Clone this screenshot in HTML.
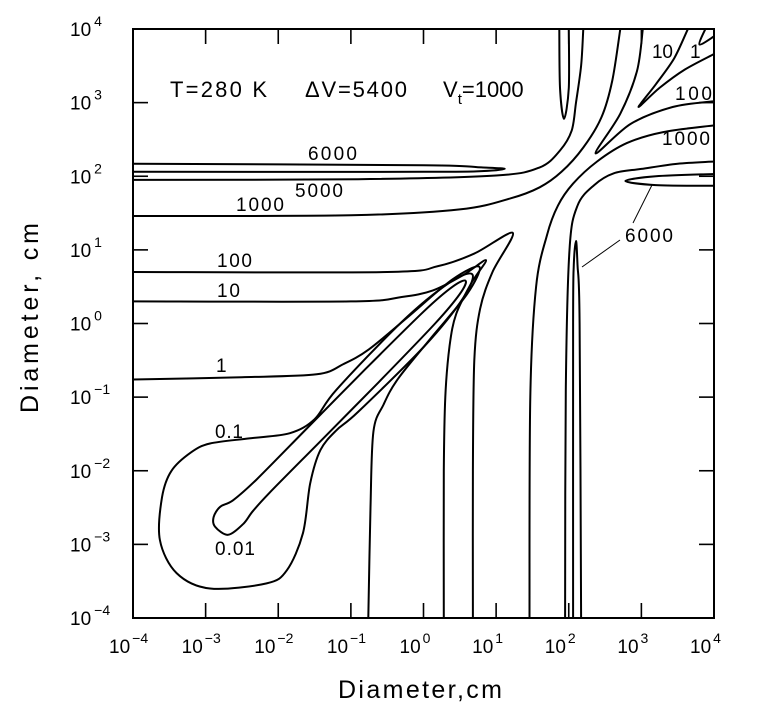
<!DOCTYPE html>
<html><head><meta charset="utf-8"><style>
html,body{margin:0;padding:0;background:#fff;}
svg{display:block;font-family:"Liberation Sans",sans-serif;}
</style></head><body>
<svg id="chart" width="759" height="718" viewBox="0 0 759 718">
<rect x="0" y="0" width="759" height="718" fill="#fff"/>
<g id="contours" fill="none" stroke="#000" stroke-width="2" stroke-linejoin="round"></g>
<g id="ticks" stroke="#000" stroke-width="1.6"></g>
<rect id="frame" fill="none" stroke="#000" stroke-width="2"/>
<g id="ticklabels" font-size="19" fill="#000"></g>
<g font-size="22" fill="#000">
<text x="170" y="97" textLength="97">T=280 K</text>
<text x="305" y="97" textLength="102">ΔV=5400</text>
<text x="443" y="97">V<tspan font-size="15" dy="7">t</tspan><tspan dy="-7">=1000</tspan></text>
</g>
<g font-size="19" fill="#000">
<text x="308" y="160" textLength="49">6000</text>
<text x="295" y="197" textLength="48">5000</text>
<text x="236" y="211" textLength="48">1000</text>
<text x="217" y="267" textLength="35">100</text>
<text x="217" y="297" textLength="23">10</text>
<text x="216" y="372">1</text>
<text x="215" y="438" textLength="28">0.1</text>
<text x="215" y="555" textLength="40">0.01</text>
<text x="652" y="58" textLength="21">10</text>
<text x="690" y="58">1</text>
<text x="675" y="100" textLength="37">100</text>
<text x="662" y="145" textLength="48">1000</text>
<text x="625" y="242" textLength="48">6000</text>
</g>
<g stroke="#000" stroke-width="1">
<line x1="633" y1="223" x2="652" y2="185"/>
<line x1="620" y1="240" x2="582" y2="267"/>
</g>
<text x="338" y="698" font-size="25" textLength="164">Diameter,cm</text>
<text transform="translate(38,318) rotate(-90)" text-anchor="middle" font-size="25" textLength="190">Diameter, cm</text>
</svg>
<script>
// contour paths in log10 units: [log10(x), log10(y)]
const c001 = [[-2.35,-2.55],[-2.48,-2.72],[-2.69,-2.87],[-2.87,-2.76],[-2.89,-2.63],[-2.80,-2.49],[-2.62,-2.40],[-2.3,-2.12],[-1.6,-1.42],[-0.8,-0.62],[0,0.16],[0.4,0.5],[0.58,0.58],[0.5,0.4],[0.16,0],[-0.62,-0.8],[-1.42,-1.6],[-2.12,-2.3]];
const c01 = [[-3.6,-2.36],[-3.47,-2.0],[-3.2,-1.75],[-2.94,-1.63],[-2.4,-1.56],[-1.84,-1.49],[-1.5,-1.3],[-1.2,-0.9],[-0.3,0.02],[0.35,0.55],[0.67,0.67],[0.55,0.35],[0.02,-0.3],[-0.9,-1.2],[-1.2,-1.45],[-1.42,-1.72],[-1.56,-2.17],[-1.66,-2.85],[-1.88,-3.35],[-2.16,-3.53],[-2.94,-3.6],[-3.4,-3.39],[-3.63,-2.94]];
const c1 = [[-4,-0.76],[-2.5,-0.73],[-1.47,-0.69],[-1.1,-0.55],[-0.75,-0.35],[-0.2,0.1],[0.4,0.6],[0.77,0.77],[0.6,0.4],[0.1,-0.2],[-0.35,-0.75],[-0.55,-1.1],[-0.69,-1.47],[-0.73,-2.5],[-0.76,-4]];
const c10 = [[-4,0.3],[-1.0,0.3],[-0.3,0.36],[0.13,0.45],[0.55,0.66],[0.86,0.86],[0.66,0.55],[0.45,0.13],[0.36,-0.3],[0.3,-1.0],[0.28,-2],[0.28,-4]];
const c100 = [[-4,0.7],[-0.5,0.7],[0.2,0.78],[0.7,0.95],[1.23,1.23],[0.95,0.7],[0.78,0.2],[0.7,-0.5],[0.68,-2],[0.68,-4]];
const c1000a = [[-4,1.46],[-1,1.47],[0.5,1.55],[1.2,1.7],[1.6,1.85],[1.9,2.06],[2.2,2.39],[2.45,2.8],[2.6,3.3],[2.71,4]];
const c1000b = [[1.46,-4],[1.47,-1],[1.55,0.5],[1.7,1.2],[1.85,1.6],[2.06,1.9],[2.39,2.2],[2.8,2.45],[3.3,2.6],[4,2.69]];
const c5000a = [[-4,1.95],[-0.9,1.96],[1.0,2.01],[1.6,2.12],[1.88,2.35],[2.04,2.62],[2.1,3.0],[2.17,3.5],[2.2,4]];
const c5000b = [[1.95,-4],[1.96,-0.9],[2.01,1.0],[2.12,1.6],[2.35,1.88],[2.62,2.04],[3.0,2.1],[3.5,2.17],[4,2.2]];
const c6000L = [[-4,2.17],[0,2.15],[0.8,2.12],[1.12,2.1],[0.8,2.07],[0,2.06],[-4,2.06]];
const c6000B = [[2.17,-4],[2.15,0],[2.12,0.8],[2.1,1.12],[2.07,0.8],[2.06,0],[2.06,-4]];
const c6000T = [[1.87,4],[1.88,3.2],[1.935,2.78],[2.0,3.2],[2.0,4]];
const c6000R = [[4,1.87],[3.2,1.88],[2.78,1.935],[3.2,2.0],[4,2.03]];
const c100UR = [[3.02,4],[2.94,3.43],[2.71,2.85],[2.37,2.31],[2.85,2.71],[3.43,2.94],[4,3.02]];
const c10UR = [[3.64,4],[3.45,3.6],[3.2,3.25],[2.96,2.94],[3.25,3.2],[3.6,3.45],[4,3.66]];
const c1UR = [[3.88,4],[3.80,3.79],[4,3.9]];
const closedContours = ['c001','c01'];
const xTicks = [-4,-3,-2,-1,0,1,2,3,4];
const yTicks = [-4,-3,-2,-1,0,1,2,3,4];
const xTickLabels = ['\u22124','\u22123','\u22122','\u22121','0','1','2','3','4'];
const yTickLabels = ['\u22124','\u22123','\u22122','\u22121','0','1','2','3','4'];

const X0=133, X1=714, Y0=618, Y1=29;
function sx(l){return X0+(l+4)*(X1-X0)/8;}
function sy(l){return Y0-(l+4)*(Y0-Y1)/8;}
const NS='http://www.w3.org/2000/svg';

function pathFrom(pts, closed){
  const p = pts.map(d=>[sx(d[0]),sy(d[1])]);
  const n = p.length;
  const get = i => closed ? p[(i+n)%n] : p[Math.max(0,Math.min(n-1,i))];
  let s = 'M'+p[0][0].toFixed(1)+','+p[0][1].toFixed(1);
  const segs = closed ? n : n-1;
  for(let i=0;i<segs;i++){
    const p0=get(i-1),p1=get(i),p2=get(i+1),p3=get(i+2);
    const t=0.16;
    const c1x=p1[0]+(p2[0]-p0[0])*t, c1y=p1[1]+(p2[1]-p0[1])*t;
    const c2x=p2[0]-(p3[0]-p1[0])*t, c2y=p2[1]-(p3[1]-p1[1])*t;
    s+=' C'+c1x.toFixed(1)+','+c1y.toFixed(1)+' '+c2x.toFixed(1)+','+c2y.toFixed(1)+' '+p2[0].toFixed(1)+','+p2[1].toFixed(1);
  }
  if(closed) s+=' Z';
  return s;
}

const defs = {c001,c01,c1,c10,c100,c1000a,c1000b,c5000a,c5000b,c6000L,c6000B,c6000T,c6000R,c100UR,c10UR,c1UR};
const cg = document.getElementById('contours');
const clip = document.createElementNS(NS,'clipPath');
clip.setAttribute('id','plotclip');
const cr = document.createElementNS(NS,'rect');
cr.setAttribute('x',X0);cr.setAttribute('y',Y1);cr.setAttribute('width',X1-X0);cr.setAttribute('height',Y0-Y1);
clip.appendChild(cr);
document.getElementById('chart').appendChild(clip);
cg.setAttribute('clip-path','url(#plotclip)');
for(const k in defs){
  const el=document.createElementNS(NS,'path');
  el.setAttribute('d',pathFrom(defs[k], closedContours.includes(k)));
  
  
  cg.appendChild(el);
}

const fr=document.getElementById('frame');
fr.setAttribute('x',X0);fr.setAttribute('y',Y1);fr.setAttribute('width',X1-X0);fr.setAttribute('height',Y0-Y1);

const tg=document.getElementById('ticks');
const L=15;
function addLine(x1,y1,x2,y2,name){
  const l=document.createElementNS(NS,'line');
  l.setAttribute('x1',x1);l.setAttribute('y1',y1);l.setAttribute('x2',x2);l.setAttribute('y2',y2);
  
  
  tg.appendChild(l);
}
xTicks.forEach((v,i)=>{
  if(i===0||i===xTicks.length-1) return;
  const x=sx(v);
  addLine(x,Y0,x,Y0-L,'x-tick-bottom');
  addLine(x,Y1,x,Y1+L,'x-tick-top');
});
yTicks.forEach((v,i)=>{
  if(i===0||i===yTicks.length-1) return;
  const y=sy(v);
  addLine(X0,y,X0+L,y,'y-tick-left');
  addLine(X1,y,X1-L,y,'y-tick-right');
});

const lg=document.getElementById('ticklabels');
xTicks.forEach((v,i)=>{
  const t=document.createElementNS(NS,'text');
  const x=sx(v);
  t.setAttribute('x',x-24);
  t.setAttribute('y',653);
  
  
  t.textContent='10';
  const s=document.createElementNS(NS,'tspan');
  s.setAttribute('font-size','14');
  s.setAttribute('dy','-10');
  s.setAttribute('dx','2');
  s.textContent=xTickLabels[i];
  t.appendChild(s);
  lg.appendChild(t);
});
yTicks.forEach((v,i)=>{
  const t=document.createElementNS(NS,'text');
  const y=sy(v);
  t.setAttribute('x',70);
  t.setAttribute('y',y+7);
  
  
  t.textContent='10';
  const s=document.createElementNS(NS,'tspan');
  s.setAttribute('font-size','14');
  s.setAttribute('dy','-10');
  s.setAttribute('dx','3');
  s.textContent=yTickLabels[i];
  t.appendChild(s);
  lg.appendChild(t);
});
</script>
</body></html>
